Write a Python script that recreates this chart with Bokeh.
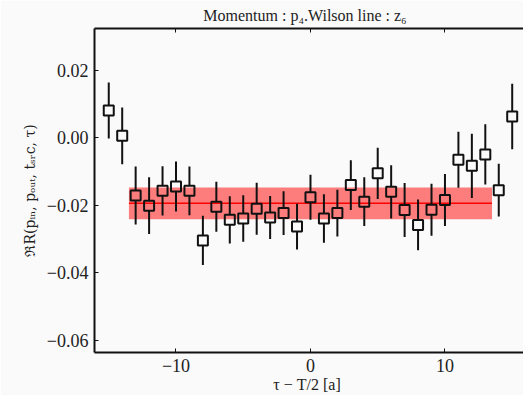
from bokeh.plotting import figure
from bokeh.models import (Range1d, LinearAxis, FixedTicker, CustomJSTickFormatter,
                          ColumnDataSource)
from bokeh.embed import file_html
from bokeh.resources import INLINE

# ---- data ----
tau = [-15, -14, -13, -12, -11, -10, -9, -8, -7, -6, -5, -4, -3, -2, -1, 0,
       1, 2, 3, 4, 5, 6, 7, 8, 9, 10, 11, 12, 13, 14, 15]
values = [0.0081, 0.0006, -0.0171, -0.0201, -0.0157, -0.0144, -0.0157, -0.0304,
          -0.0204, -0.0243, -0.0239, -0.0210, -0.0236, -0.0223, -0.0263, -0.0176,
          -0.0239, -0.0223, -0.0140, -0.0189, -0.0105, -0.0160, -0.0214, -0.0258,
          -0.0213, -0.0184, -0.0065, -0.0083, -0.0049, -0.0155, 0.0063]
errors = [0.0083, 0.0084, 0.0086, 0.0084, 0.0073, 0.0074, 0.0072, 0.0073,
          0.0074, 0.0070, 0.0069, 0.0077, 0.0064, 0.0065, 0.0068, 0.0067,
          0.0072, 0.0069, 0.0074, 0.0072, 0.0076, 0.0079, 0.0080, 0.0075,
          0.0077, 0.0077, 0.0083, 0.0095, 0.0089, 0.0078, 0.0097]
fit_range = [-13.5, 13.5]
fit_mean = -0.0194
fit_err = 0.0047
x_ticks = [-10, 0, 10]
y_ticks = [-0.06, -0.04, -0.02, 0.00, 0.02]

title_text = "Momentum :  p\u2084.Wilson line :  z\u2086"
x_label = "\u03c4 \u2212 T/2  [a]"
y_label = "\u211cR(p\u1d62\u2099, p\u2092\u1d64\u209c, t\u209b\u1d63c, \u03c4)"

# ---- figure ----
BG = "#fafafa"
FONT = "Liberation Serif"
W, H = 523, 395
x0, x1 = -16.06, 15.84
y0, y1 = -0.0636, 0.0324

p = figure(width=W, height=H, output_backend="svg", toolbar_location=None,
           x_range=Range1d(x0, x1), y_range=Range1d(y0, y1),
           background_fill_color=BG, border_fill_color=BG,
           min_border_left=94, min_border_right=0, min_border_bottom=10,
           min_border_top=0, title=title_text)
p.outline_line_color = None
p.grid.visible = False

p.title.text_font = FONT
p.title.text_font_size = "16px"
p.title.text_font_style = "normal"
p.title.align = "center"
p.title.text_color = "#222222"
p.title.offset = 0
p.title.standoff = 9

def style_axis(ax):
    ax.axis_line_color = "#111111"
    ax.axis_line_width = 2
    ax.major_tick_in = 4
    ax.major_tick_out = 0
    ax.major_tick_line_color = "#111111"
    ax.minor_tick_line_color = None
    ax.major_label_text_font = FONT
    ax.major_label_text_font_size = "18px"
    ax.major_label_text_color = "#222222"
    ax.axis_label_text_font = FONT
    ax.axis_label_text_font_style = "normal"
    ax.axis_label_text_color = "#222222"

xax = p.xaxis[0]
yax = p.yaxis[0]
style_axis(xax)
style_axis(yax)
xax.ticker = FixedTicker(ticks=x_ticks)
yax.ticker = FixedTicker(ticks=y_ticks)
xax.formatter = CustomJSTickFormatter(code='return (tick < 0 ? "\\u2212" : "") + Math.abs(tick).toFixed(0);')
yax.formatter = CustomJSTickFormatter(code='return (tick < 0 ? "\\u2212" : "") + Math.abs(tick).toFixed(2);')
xax.major_label_standoff = 6
yax.major_label_standoff = 6
xax.axis_label = x_label
yax.axis_label = y_label
xax.axis_label_text_font_size = "16px"
yax.axis_label_text_font = "DejaVu Serif"
yax.axis_label_text_font_size = "14px"
xax.axis_label_standoff = 1
yax.axis_label_standoff = 6

# top spine with inward ticks, no labels
top = LinearAxis(ticker=FixedTicker(ticks=x_ticks),
                 formatter=CustomJSTickFormatter(code='return "";'))
style_axis(top)
top.major_label_standoff = 0
p.add_layout(top, "above")

# ---- fit band ----
p.varea(x=fit_range, y1=[fit_mean - fit_err] * 2, y2=[fit_mean + fit_err] * 2,
        fill_color="#ff0000", fill_alpha=0.5)
p.line(x=fit_range, y=[fit_mean] * 2, line_color="#ff0000", line_width=1.5)

# ---- error bars (gap where the square marker sits) ----
marker_px = 10
frame_h = 324
gap = (marker_px / 2) * (y1 - y0) / frame_h
src = ColumnDataSource(dict(
    x=tau, y=values,
    lo=[v - e for v, e in zip(values, errors)],
    lo_in=[v - gap for v in values],
    hi=[v + e for v, e in zip(values, errors)],
    hi_in=[v + gap for v in values],
))
p.segment(x0="x", y0="lo", x1="x", y1="lo_in", source=src, line_color="#111111", line_width=2)
p.segment(x0="x", y0="hi_in", x1="x", y1="hi", source=src, line_color="#111111", line_width=2)
p.scatter(x="x", y="y", source=src, marker="square", size=marker_px,
          fill_color=None, line_color="#111111", line_width=2)

open("out.html", "w").write(file_html(p, INLINE))
